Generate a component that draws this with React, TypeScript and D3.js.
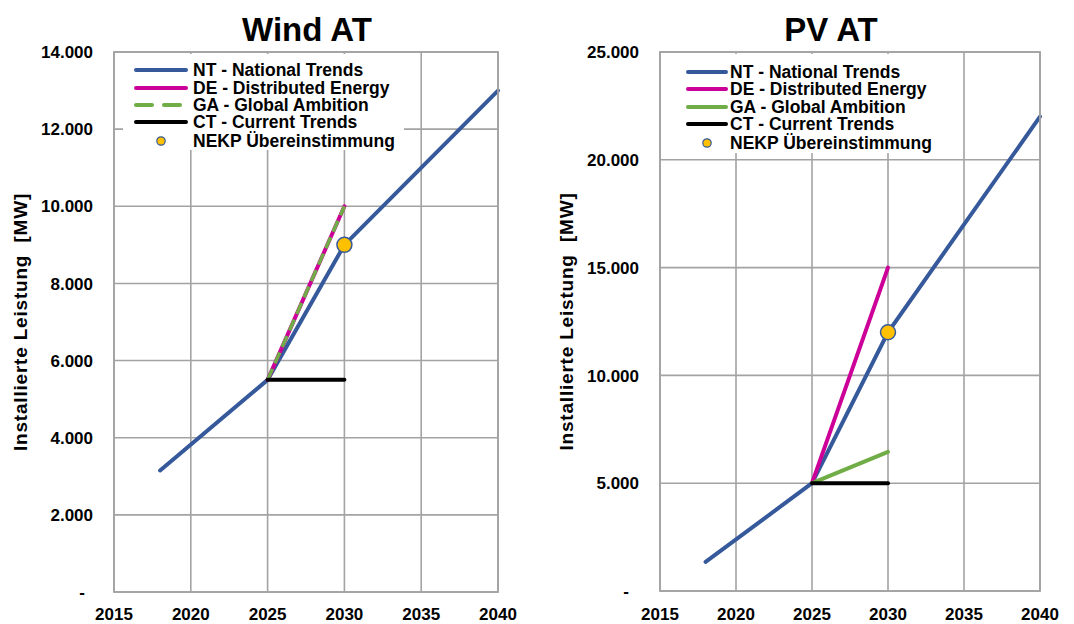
import React from "react";
import * as d3 from "d3";

// Scenario years
const ntYears = [2018, 2025, 2030, 2040];
const scenYears = [2025, 2030];
const nekpYear = 2030;

// Wind AT, installed capacity in MW
const windNT = [3150, 5500, 9000, 13000];
const windDE = [5500, 10000];
const windGA = [5500, 10000];
const windCT = [5500, 5500];
const windNEKP = 9000;
const windTicks = [0, 2000, 4000, 6000, 8000, 10000, 12000, 14000];

// PV AT, installed capacity in MW
const pvNT = [1350, 5000, 12000, 22000];
const pvDE = [5000, 15000];
const pvGA = [5000, 6450];
const pvCT = [5000, 5000];
const pvNEKP = 12000;
const pvTicks = [0, 5000, 10000, 15000, 20000, 25000];

const xTicks = [2015, 2020, 2025, 2030, 2035, 2040];

const legendLabels = [
  "NT - National Trends",
  "DE - Distributed Energy",
  "GA - Global Ambition",
  "CT - Current Trends",
  "NEKP Übereinstimmung",
];

const C = {
  nt: "#35599b",
  de: "#cc0099",
  ga: "#70ad47",
  ct: "#000000",
  dot: "#ffc000",
  grid: "#a3a3a3",
};

const FONT = "'Liberation Sans', Arial, sans-serif";
const de = d3.formatLocale({ decimal: ",", thousands: ".", grouping: [3], currency: ["€", ""] });
const fmt = (v: number) => (v === 0 ? "-" : de.format(",.0f")(v));

type PanelProps = {
  title: string;
  titleX: number;
  left: number;
  right: number;
  top: number;
  bottom: number;
  yMax: number;
  yTicks: number[];
  nt: number[];
  deV: number[];
  ga: number[];
  ct: number[];
  nekp: number;
  gaDashed: boolean;
  legend: { x0: number; x1: number; y0: number; y1: number; lineX0: number; lineX1: number; textX: number; rows: number[] };
  labelX: number;
  tickRight: number;
  dashOffset: number;
};

function Panel(p: PanelProps) {
  const x = d3.scaleLinear().domain([2015, 2040]).range([p.left, p.right]);
  const y = d3.scaleLinear().domain([0, p.yMax]).range([p.bottom, p.top]);
  const line = d3
    .line<[number, number]>()
    .x((d) => x(d[0]))
    .y((d) => y(d[1]));
  const zip = (xs: number[], ys: number[]) => xs.map((v, i) => [v, ys[i]] as [number, number]);
  const lg = p.legend;
  const series = [
    { color: C.nt, dash: undefined as string | undefined },
    { color: C.de, dash: undefined },
    { color: C.ga, dash: p.gaDashed ? "16,12" : undefined },
    { color: C.ct, dash: undefined },
  ];
  const midY = (p.top + p.bottom) / 2;
  return (
    <g>
      <text x={p.titleX} y={41} textAnchor="middle" fontFamily={FONT} fontWeight="bold" fontSize={33}>
        {p.title}
      </text>
      {/* grid */}
      {p.yTicks.map((t) => (
        <line key={"gy" + t} x1={p.left} x2={p.right} y1={y(t)} y2={y(t)} stroke={C.grid} strokeWidth={1.6} />
      ))}
      {xTicks.map((t) => (
        <line key={"gx" + t} x1={x(t)} x2={x(t)} y1={p.top} y2={p.bottom} stroke={C.grid} strokeWidth={1.6} />
      ))}
      {/* tick labels */}
      {p.yTicks.map((t) => (
        <text
          key={"ty" + t}
          x={t === 0 ? p.tickRight - p.dashOffset : p.tickRight}
          y={y(t)}
          dy="0.36em"
          textAnchor="end"
          fontFamily={FONT}
          fontWeight="bold"
          fontSize={17}
        >
          {fmt(t)}
        </text>
      ))}
      {xTicks.map((t) => (
        <text key={"tx" + t} x={x(t)} y={620} textAnchor="middle" fontFamily={FONT} fontWeight="bold" fontSize={17}>
          {t}
        </text>
      ))}
      <text
        transform={`translate(${p.labelX},${midY}) rotate(-90)`}
        textAnchor="middle"
        fontFamily={FONT}
        fontWeight="bold"
        fontSize={19}
        letterSpacing={0.8}
        style={{ whiteSpace: "pre" }}
      >
        {"Installierte Leistung  [MW]"}
      </text>
      {/* legend */}
      <rect x={lg.x0} y={lg.y0} width={lg.x1 - lg.x0} height={lg.y1 - lg.y0} fill="#ffffff" />
      {series.map((s, i) => (
        <g key={"lg" + i}>
          <line
            x1={lg.lineX0}
            x2={lg.lineX1}
            y1={lg.rows[i]}
            y2={lg.rows[i]}
            stroke={s.color}
            strokeWidth={4}
            strokeLinecap="round"
            strokeDasharray={s.dash}
          />
          <text x={lg.textX} y={lg.rows[i]} dy="0.36em" fontFamily={FONT} fontWeight="bold" fontSize={17.5}>
            {legendLabels[i]}
          </text>
        </g>
      ))}
      <circle cx={(lg.lineX0 + lg.lineX1) / 2} cy={lg.rows[4]} r={4.2} fill={C.dot} stroke={C.nt} strokeWidth={1.2} />
      <text x={lg.textX} y={lg.rows[4]} dy="0.36em" fontFamily={FONT} fontWeight="bold" fontSize={17.5}>
        {legendLabels[4]}
      </text>
      {/* series */}
      <path d={line(zip(ntYears, p.nt))!} fill="none" stroke={C.nt} strokeWidth={4} strokeLinecap="round" />
      <path d={line(zip(scenYears, p.deV))!} fill="none" stroke={C.de} strokeWidth={4} strokeLinecap="round" />
      <path
        d={line(zip(scenYears, p.ga))!}
        fill="none"
        stroke={C.ga}
        strokeWidth={p.gaDashed ? 3.5 : 4}
        strokeLinecap={p.gaDashed ? "butt" : "round"}
        strokeDasharray={p.gaDashed ? "12,6" : undefined}
      />
      <path d={line(zip(scenYears, p.ct))!} fill="none" stroke={C.ct} strokeWidth={4} strokeLinecap="round" />
      <circle cx={x(nekpYear)} cy={y(p.nekp)} r={7.5} fill={C.dot} stroke={C.nt} strokeWidth={1.5} />
      {/* plot frame */}
      <rect x={p.left} y={p.top} width={p.right - p.left} height={p.bottom - p.top} fill="none" stroke={C.grid} strokeWidth={1.8} />
    </g>
  );
}

export default function App() {
  return (
    <svg
      width={1074}
      height={624}
      style={{ position: "absolute", left: 0, top: 0, background: "#ffffff" }}
    >
      <rect width={1074} height={624} fill="#ffffff" />
      <Panel
        title="Wind AT"
        titleX={307}
        left={114}
        right={498}
        top={52}
        bottom={592}
        yMax={14000}
        yTicks={windTicks}
        nt={windNT}
        deV={windDE}
        ga={windGA}
        ct={windCT}
        nekp={windNEKP}
        gaDashed={true}
        legend={{ x0: 123, x1: 404, y0: 54, y1: 150, lineX0: 136, lineX1: 186, textX: 193, rows: [70, 88, 105, 122, 141] }}
        labelX={27}
        tickRight={93}
        dashOffset={8}
      />
      <Panel
        title="PV AT"
        titleX={831}
        left={660}
        right={1040}
        top={52}
        bottom={591}
        yMax={25000}
        yTicks={pvTicks}
        nt={pvNT}
        deV={pvDE}
        ga={pvGA}
        ct={pvCT}
        nekp={pvNEKP}
        gaDashed={false}
        legend={{ x0: 682, x1: 936, y0: 54, y1: 153, lineX0: 688, lineX1: 726, textX: 730, rows: [72, 89, 107, 124, 143] }}
        labelX={573}
        tickRight={639}
        dashOffset={10}
      />
    </svg>
  );
}
